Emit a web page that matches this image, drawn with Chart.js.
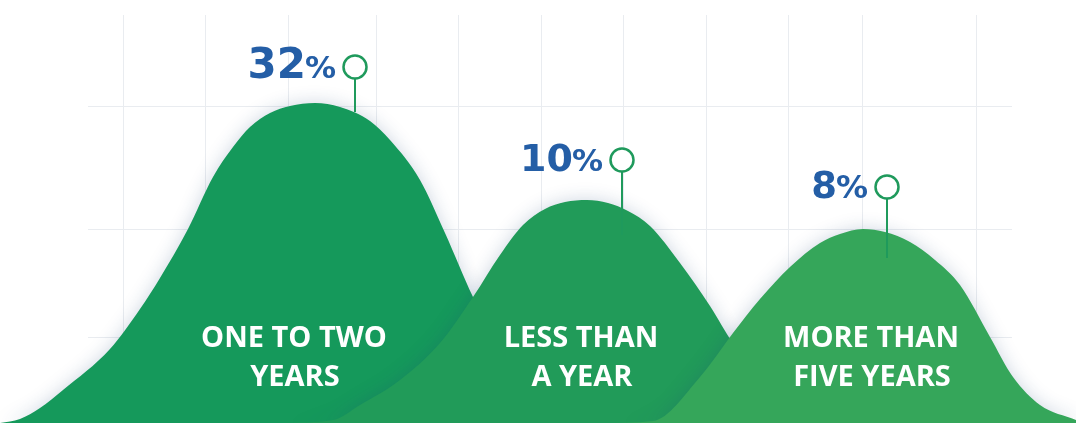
<!DOCTYPE html>
<html>
<head>
<meta charset="utf-8">
<script src="https://cdn.jsdelivr.net/npm/chart.js@4.4.1/dist/chart.umd.min.js"></script>
<style>
  html, body { margin: 0; padding: 0; background: #ffffff; }
  #wrap { position: relative; width: 1076px; height: 423px; }
</style>
</head>
<body>
<div id="wrap"><canvas id="hillChart"></canvas></div>
<script>
// categories + the percentages shown on the pins
const categories = [["ONE TO TWO", "YEARS"], ["LESS THAN", "A YEAR"], ["MORE THAN", "FIVE YEARS"]];
const shares = [32, 10, 8];

// hill outlines (x along the strip, height of the hill)
const hill1X = [0, 20, 40, 63, 110, 140, 160, 188, 213, 233, 250, 270, 290, 315, 340, 370, 390, 420, 445, 473, 500, 530, 560, 600];
const hill1H = [0, 4, 15, 33, 74, 114, 145, 194, 246, 276, 296, 310, 317, 320, 316, 302, 283, 243, 190, 126, 73, 25, 4, 0];

const hill2X = [280, 333, 360, 400, 440, 473, 500, 523, 545, 565, 587, 608, 628, 650, 680, 710, 733, 760, 800, 840, 880];
const hill2H = [0, 3, 18, 43, 80, 126, 168, 198, 214, 221, 223, 220, 212, 197, 160, 117, 80, 50, 18, 3, 0];

const hill3X = [600, 653, 700, 733, 760, 790, 820, 840, 863, 885, 910, 935, 960, 990, 1013, 1040, 1076];
const hill3H = [0, 2, 46, 90, 124, 156, 180, 189, 194, 191, 181, 163, 138, 86, 46, 18, 3];

// background grid
const gridX = [123, 205, 288, 376, 458, 541, 623, 706, 788, 862, 976];
const gridY = [317, 194, 86];

const HILL_COLORS = ["#15995b", "#219b59", "#35a65a"];
const BLUE = "#245ea6";
const PIN = "#1f9a5c";

function toPoints(xs, hs) {
  return xs.map((x, i) => ({ x: x, y: hs[i] }));
}

// layout of pins and labels (strip units)
const pinX = [355, 622, 887];
const pinTop = [356, 263, 236];
const pinBottom = [311, 188, 165];
const numSize = [42, 38, 37];
const pctSize = [31, 31, 32];
const labelX = [294, 581, 871];

const hillDecor = {
  id: "hillDecor",
  beforeDatasetsDraw(chart) {
    const ctx = chart.ctx;
    const xs = chart.scales.x;
    const ys = chart.scales.y;
    ctx.save();
    ctx.strokeStyle = "#e9ecf0";
    ctx.lineWidth = 1;
    gridX.forEach(v => {
      const px = Math.round(xs.getPixelForValue(v)) + 0.5;
      ctx.beginPath();
      ctx.moveTo(px, 15);
      ctx.lineTo(px, chart.chartArea.bottom);
      ctx.stroke();
    });
    gridY.forEach(v => {
      const py = Math.round(ys.getPixelForValue(v)) + 0.5;
      ctx.beginPath();
      ctx.moveTo(88, py);
      ctx.lineTo(1012, py);
      ctx.stroke();
    });
    ctx.restore();
    // soft shadow around the hills
    ctx.shadowColor = "rgba(30,70,120,0.22)";
    ctx.shadowBlur = 18;
    ctx.shadowOffsetX = 0;
    ctx.shadowOffsetY = 0;
  },
  afterDatasetsDraw(chart) {
    const ctx = chart.ctx;
    ctx.shadowColor = "rgba(0,0,0,0)";
    ctx.shadowBlur = 0;
    const xs = chart.scales.x;
    const ys = chart.scales.y;

    ctx.save();
    shares.forEach((s, i) => {
      const cx = xs.getPixelForValue(pinX[i]);
      const cy = ys.getPixelForValue(pinTop[i]);
      const by = ys.getPixelForValue(pinBottom[i]);
      const r = 11.5;

      // stem
      ctx.strokeStyle = PIN;
      ctx.lineWidth = 2;
      ctx.beginPath();
      ctx.moveTo(cx, cy + r);
      ctx.lineTo(cx, by);
      ctx.stroke();

      // head
      ctx.fillStyle = "#ffffff";
      ctx.lineWidth = 2.5;
      ctx.beginPath();
      ctx.arc(cx, cy, r, 0, Math.PI * 2);
      ctx.fill();
      ctx.stroke();

      // percentage, % sign smaller
      ctx.fillStyle = BLUE;
      ctx.textBaseline = "alphabetic";
      ctx.textAlign = "left";
      const pctFont = "bold " + pctSize[i] + "px 'DejaVu Sans', sans-serif";
      const numFont = "bold " + numSize[i] + "px 'DejaVu Sans', sans-serif";
      ctx.font = pctFont;
      const wPct = ctx.measureText("%").width;
      ctx.font = numFont;
      const num = String(s);
      const wNum = ctx.measureText(num).width;
      const right = cx - 19;
      const base = cy + 11;
      ctx.fillText(num, right - wPct - wNum + 1, base);
      ctx.font = pctFont;
      ctx.fillText("%", right - wPct, base);
    });

    // category names inside the hills
    ctx.fillStyle = "#ffffff";
    ctx.font = "bold 29px 'Open Sans', sans-serif";
    ctx.textAlign = "center";
    categories.forEach((lines, i) => {
      const cx = xs.getPixelForValue(labelX[i]);
      ctx.fillText(lines[0], cx, 347);
      ctx.fillText(lines[1], cx + 1, 386);
    });
    ctx.restore();
  }
};

const ctx = document.getElementById("hillChart").getContext("2d");

const hillChart = new Chart(ctx, {
  type: "line",
  data: {
    datasets: [
      { label: categories[2].join(" "), data: toPoints(hill3X, hill3H), order: 0 },
      { label: categories[1].join(" "), data: toPoints(hill2X, hill2H), order: 1 },
      { label: categories[0].join(" "), data: toPoints(hill1X, hill1H), order: 2 }
    ].map((ds, i) => Object.assign(ds, {
      backgroundColor: HILL_COLORS[2 - i],
      borderColor: HILL_COLORS[2 - i],
      borderWidth: 0,
      pointRadius: 0,
      fill: "start",
      cubicInterpolationMode: "monotone"
    }))
  },
  options: {
    responsive: true,
    maintainAspectRatio: false,
    animation: false,
    devicePixelRatio: 1,
    layout: { padding: 0 },
    plugins: {
      legend: { display: false },
      tooltip: { enabled: false },
      title: { display: false }
    },
    scales: {
      x: { type: "linear", min: 0, max: 1076, display: false },
      y: { min: 0, max: 423, display: false }
    }
  },
  plugins: [hillDecor]
});
</script>
</body>
</html>
